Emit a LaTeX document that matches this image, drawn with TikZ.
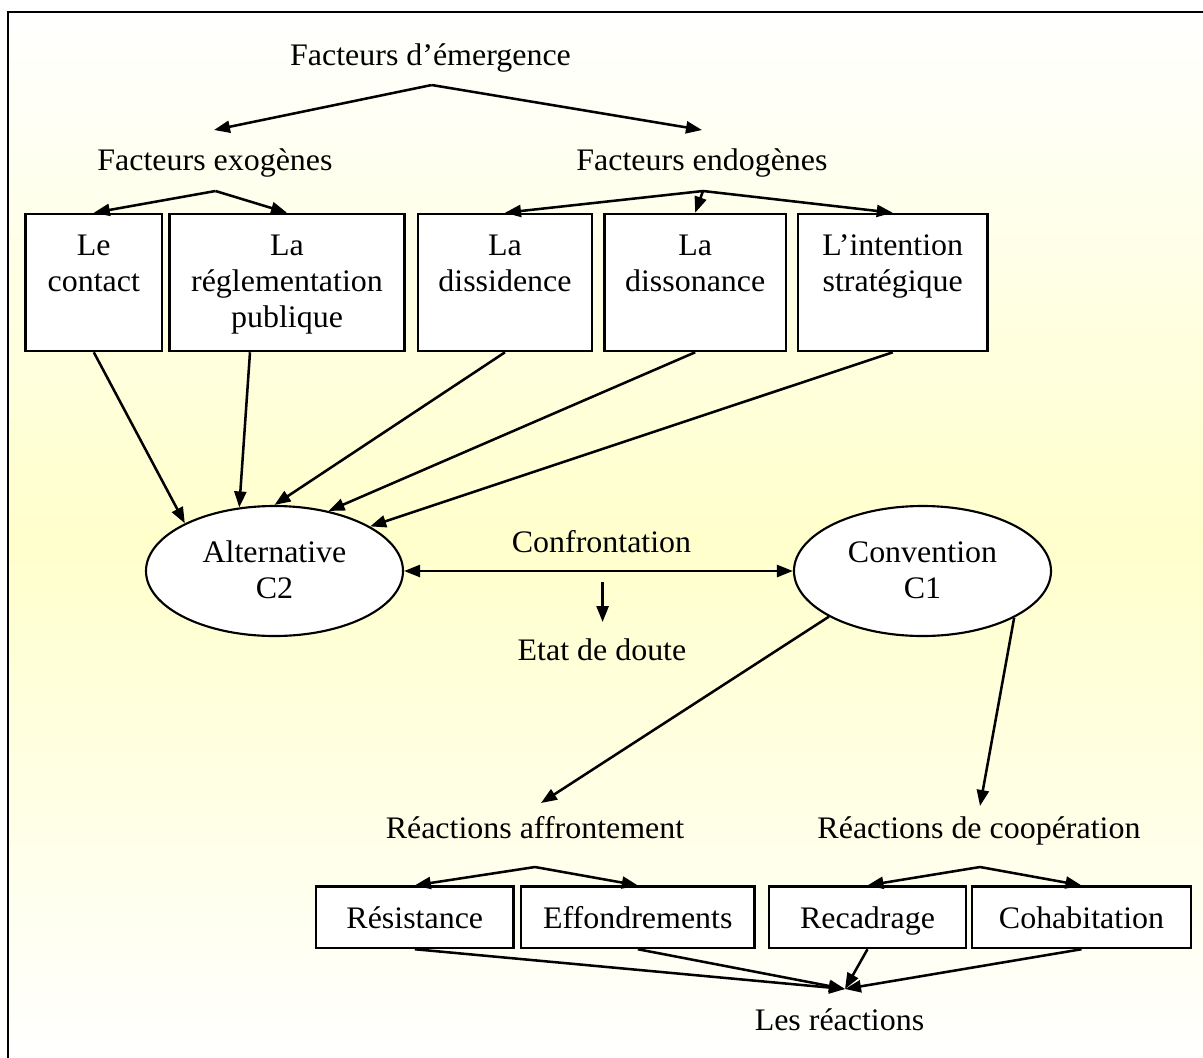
\documentclass[tikz,border=0pt]{standalone}
\usepackage{fontspec}
\setmainfont{Liberation Serif}[FakeStretch=1.02]
\usetikzlibrary{arrows.meta,shapes.geometric,calc}
\definecolor{bgyellow}{RGB}{255,255,204}
\begin{document}
\begin{tikzpicture}[x=0.75pt,y=-0.75pt,
  txt/.style={anchor=base, inner sep=0pt, font=\fontsize{23.5}{27.4}\selectfont},
  box/.style={draw, fill=white, line width=1.9pt, inner sep=0pt},
  boxwh/.style 2 args={minimum width=#1*0.75pt, minimum height=#2*0.75pt},
  oval/.style={ellipse, draw, fill=white, line width=1.6pt, inner sep=0pt,
    minimum width=192.75pt, minimum height=97.5pt},
  arr/.style={line width=1.9pt, -{Triangle[length=12pt,width=9pt]}},
  darr/.style={line width=1.9pt, {Triangle[length=12pt,width=9pt]}-{Triangle[length=12pt,width=9pt]}}
]
\useasboundingbox (0,0) rectangle (1203,1057);
% background frame
\shade[top color=white, bottom color=white, middle color=bgyellow] (8,12) rectangle (1212,1066);
\draw[line width=2pt] (8,1066) -- (8,12) -- (1212,12);

% headings
\node[txt] (emerg) at (430.5,65) {Facteurs d’émergence};
\node[txt] (exo) at (215,170) {Facteurs exogènes};
\node[txt] (endo) at (702,170) {Facteurs endogènes};

% top boxes
\node[box, boxwh={136.4}{137}] (contact) at (93.8,282.5) {};
\node[box, boxwh={235}{137}] (regl) at (287,282.5) {};
\node[box, boxwh={174}{137}] (dissid) at (505,282.5) {};
\node[box, boxwh={181.2}{137}] (disson) at (695.2,282.5) {};
\node[box, boxwh={189.3}{137}] (intent) at (892.7,282.5) {};

\node[txt] (contact1) at (93.8,255) {Le};
\node[txt] (contact2) at (93.8,291.7) {contact};
\node[txt] (regl1) at (287,255) {La};
\node[txt] (regl2) at (287,291.7) {réglementation};
\node[txt] (regl3) at (287,327.5) {publique};
\node[txt] (dissid1) at (505,255) {La};
\node[txt] (dissid2) at (505,291.7) {dissidence};
\node[txt] (disson1) at (695.2,255) {La};
\node[txt] (disson2) at (695.2,291.7) {dissonance};
\node[txt] (intent1) at (892.7,255) {L’intention};
\node[txt] (intent2) at (892.7,291.7) {stratégique};

% ellipses
\node[oval] (alt) at (274.5,571) {};
\node[oval] (conv) at (922.5,571) {};
\node[txt] (alt1) at (274.5,562) {Alternative};
\node[txt] (alt2) at (274.5,598) {C2};
\node[txt] (conv1) at (922.5,562) {Convention};
\node[txt] (conv2) at (922.5,598) {C1};

\node[txt] (confr) at (601.5,552) {Confrontation};
\node[txt] (doute) at (602,660) {Etat de doute};

% reactions
\node[txt] (raff) at (535,838) {Réactions affrontement};
\node[txt] (rcoop) at (979,838) {Réactions de coopération};

\node[box, boxwh={197.5}{61.3}] (resist) at (414.8,917.3) {};
\node[box, boxwh={233.6}{61.3}] (effond) at (637.8,917.3) {};
\node[box, boxwh={197}{61.3}] (recad) at (867.5,917.3) {};
\node[box, boxwh={219}{61.3}] (cohab) at (1081.5,917.3) {};
\node[txt] at (414.8,928) (resistT) {Résistance};
\node[txt] at (637.8,928) (effondT) {Effondrements};
\node[txt] at (867.5,928) (recadT) {Recadrage};
\node[txt] at (1081.5,928) (cohabT) {Cohabitation};

\node[txt] (lesreac) at (839.5,1030) {Les réactions};

% coordinates for free ends
\coordinate (emA) at (431.7,85);
\coordinate (exoT) at (214,130);
\coordinate (endoT) at (702,130);
\coordinate (exoA) at (215.5,191);
\coordinate (endoA) at (703,191);
\coordinate (affA) at (535,867);
\coordinate (coopA) at (980,867);
\coordinate (affT) at (541,803);
\coordinate (coopT) at (980,806);
\coordinate (reacT) at (845,989);
\coordinate (doubtS) at (602.6,582);
\coordinate (doubtE) at (602.6,622);

% connectors
\draw[arr] (emA) -- (exoT);
\draw[arr] (emA) -- (endoT);
\draw[arr] (exoA) -- (contact.north);
\draw[arr] (exoA) -- (regl.north);
\draw[arr] (endoA) -- (dissid.north);
\draw[arr] (endoA) -- (disson.north);
\draw[arr] (endoA) -- (intent.north);

\draw[arr] (contact.south) -- (alt.152.3);
\draw[arr] ($(regl.south)+(-37,0)$) -- (alt.119.6);
\draw[arr] (dissid.south) -- (alt.90);
\draw[arr] (disson.south) -- (alt.48.9);
\draw[arr] (intent.south) -- (alt.25.2);

\draw[darr] (alt.east) -- (conv.west);
\draw[arr] (doubtS) -- (doubtE);

\draw[arr] (conv.206.7) -- (affT);
\draw[arr] (conv.333.3) -- (coopT);

\draw[arr] (affA) -- (resist.north);
\draw[arr] (affA) -- (effond.north);
\draw[arr] (coopA) -- (recad.north);
\draw[arr] (coopA) -- (cohab.north);

\draw[arr] (resist.south) -- (reacT);
\draw[arr] (effond.south) -- (reacT);
\draw[arr] (recad.south) -- (reacT);
\draw[arr] (cohab.south) -- (reacT);
\end{tikzpicture}
\end{document}
